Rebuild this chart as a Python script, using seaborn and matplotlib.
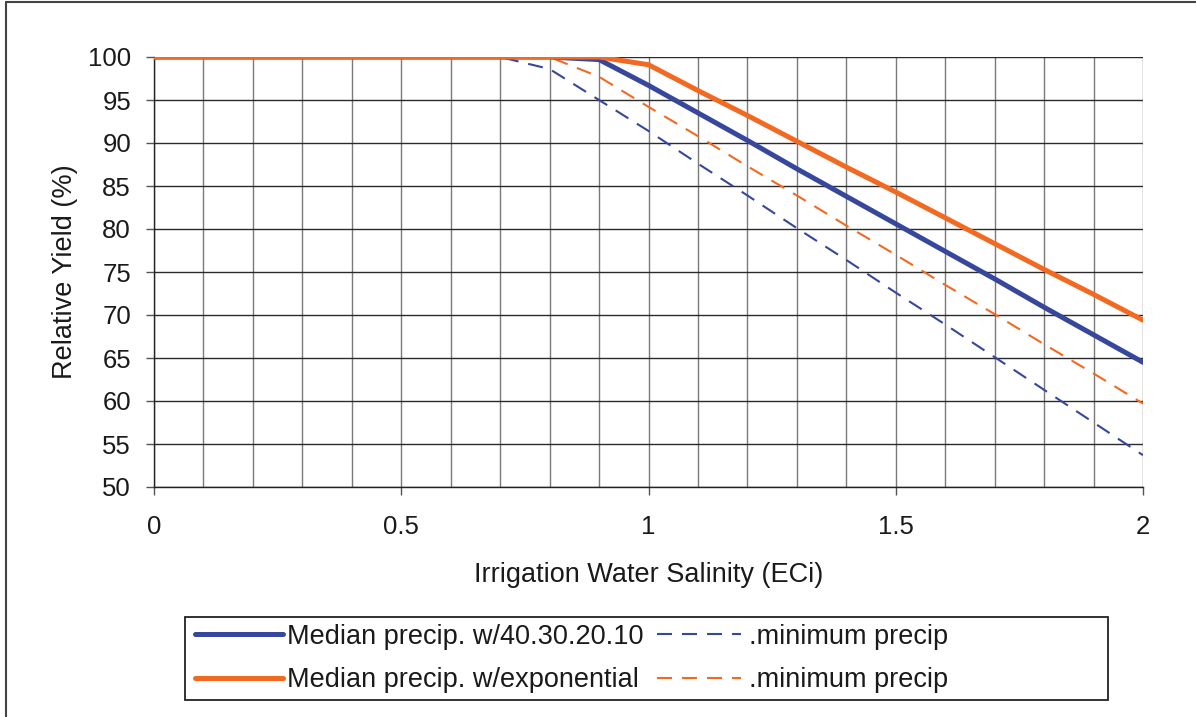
import matplotlib
matplotlib.use("Agg")
import matplotlib.pyplot as plt
from matplotlib.lines import Line2D
from matplotlib.patches import Rectangle
from matplotlib.ticker import MultipleLocator, FuncFormatter
import seaborn as sns

# salinity steps and relative yield values
salinity = [0.0, 0.1, 0.2, 0.3, 0.4, 0.5, 0.6, 0.7, 0.8, 0.9, 1.0,
            1.1, 1.2, 1.3, 1.4, 1.5, 1.6, 1.7, 1.8, 1.9, 2.0]
median_4321 = [100, 100, 100, 100, 100, 100, 100, 100, 100, 99.7, 96.7,
               93.5, 90.3, 87.0, 83.8, 80.6, 77.4, 74.2, 70.9, 67.7, 64.5]
minimum_4321 = [100, 100, 100, 100, 100, 100, 100, 100, 98.6, 95.0, 91.4,
                87.6, 83.9, 80.1, 76.4, 72.6, 68.9, 65.1, 61.3, 57.5, 53.7]
median_exp = [100, 100, 100, 100, 100, 100, 100, 100, 100, 100, 99.1,
              96.1, 93.2, 90.2, 87.2, 84.3, 81.3, 78.3, 75.3, 72.4, 69.4]
minimum_exp = [100, 100, 100, 100, 100, 100, 100, 100, 100, 97.7, 94.2,
               90.8, 87.3, 83.9, 80.4, 77.0, 73.5, 70.1, 66.6, 63.2, 59.7]

median_labels = ["Median precip. w/40.30.20.10", "Median precip. w/exponential"]
minimum_labels = [".minimum precip", ".minimum precip"]

BLUE = "#36479c"
ORANGE = "#f26a22"
TEXT = "#1a1a1a"

sns.set_theme(style="white")
plt.rcParams["font.family"] = ["Liberation Sans", "DejaVu Sans"]

W, H = 1196, 717
fig = plt.figure(figsize=(W / 100, H / 100), dpi=100)
ax = fig.add_axes([154 / W, 1 - 487 / H, (1143 - 154) / W, (487 - 57) / H])

# dashed ones first so the thick lines sit on top
sns.lineplot(x=salinity, y=minimum_4321, ax=ax, color=BLUE, lw=1.5, zorder=3)
sns.lineplot(x=salinity, y=minimum_exp, ax=ax, color=ORANGE, lw=1.5, zorder=3)
sns.lineplot(x=salinity, y=median_4321, ax=ax, color=BLUE, lw=3.6, zorder=4)
sns.lineplot(x=salinity, y=median_exp, ax=ax, color=ORANGE, lw=3.6, zorder=5)
lines = ax.get_lines()
for ln in lines[:2]:
    ln.set_dashes([7.2, 4.8])

ax.set_xlim(0, 2)
ax.set_ylim(50, 100)
ax.xaxis.set_major_locator(MultipleLocator(0.5))
ax.xaxis.set_minor_locator(MultipleLocator(0.1))
ax.yaxis.set_major_locator(MultipleLocator(5))
ax.xaxis.set_major_formatter(FuncFormatter(lambda v, p: f"{v:g}"))

ax.grid(which="both", axis="x", color="#7a7a7a", lw=1.0)
ax.grid(which="major", axis="y", color="#2a2a2a", lw=1.0)
ax.set_axisbelow(True)

for side in ["top", "right"]:
    ax.spines[side].set_visible(False)
for side in ["left", "bottom"]:
    ax.spines[side].set_color("#222222")
    ax.spines[side].set_linewidth(1.0)

ax.tick_params(axis="both", which="major", direction="out", length=6, width=1,
               color="#555555", labelsize=18.5, labelcolor=TEXT,
               left=True, bottom=True)
ax.tick_params(axis="y", pad=10.5)
ax.tick_params(axis="x", pad=14)
ax.tick_params(axis="x", which="minor", length=0)

ax.set_xlabel("Irrigation Water Salinity (ECi)", fontsize=19.5, color=TEXT,
              labelpad=17)
ax.set_ylabel("Relative Yield (%)", fontsize=19.5, color=TEXT, labelpad=7)

# legend: box drawn by hand, two legends for the two columns
fig.add_artist(Rectangle((185 / W, 1 - 700 / H), (1108 - 185) / W, (700 - 617) / H,
                         transform=fig.transFigure, fill=False,
                         edgecolor="#222222", lw=1.3))
fs = 19.5
fs_px = fs * 100 / 72
common = dict(fontsize=fs, loc="center left", frameon=False, borderpad=0,
              borderaxespad=0, labelspacing=0.66, labelcolor=TEXT)
leg1 = fig.legend([lines[2], lines[3]], median_labels,
                  bbox_to_anchor=(195 / W, 1 - 658.5 / H),
                  handlelength=88 / fs_px, handletextpad=4 / fs_px, **common)
leg2 = fig.legend([lines[0], lines[1]], minimum_labels,
                  bbox_to_anchor=(657 / W, 1 - 658.5 / H),
                  handlelength=84 / fs_px, handletextpad=8 / fs_px, **common)

# outer frame (top and left edges visible in the original)
fig.add_artist(Line2D([6 / W, 6 / W], [0, 1 - 1.5 / H], color="#444444", lw=1.5,
                      transform=fig.transFigure))
fig.add_artist(Line2D([6 / W, 1], [1 - 1.5 / H, 1 - 1.5 / H], color="#444444", lw=1.5,
                      transform=fig.transFigure))

fig.savefig("out.png", dpi=100)
